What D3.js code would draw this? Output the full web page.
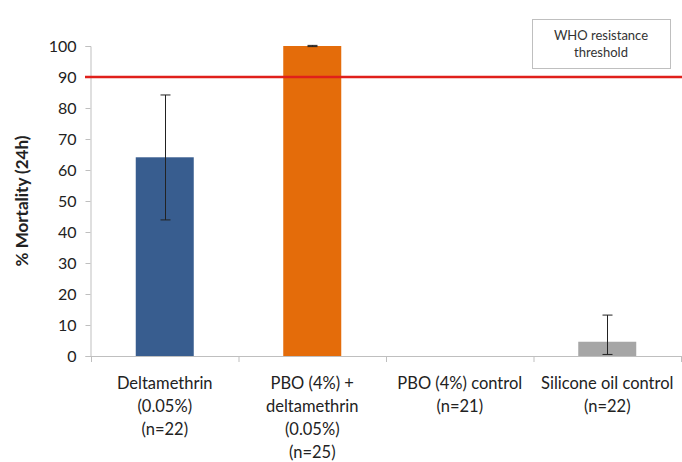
<!DOCTYPE html>
<html><head><meta charset="utf-8">
<script src="https://cdn.jsdelivr.net/npm/d3@7"></script>
<style>body{margin:0;background:#fff}svg{display:block}</style>
</head><body>
<script>
const categories = [
  ["Deltamethrin", "(0.05%)", "(n=22)"],
  ["PBO (4%) +", "deltamethrin", "(0.05%)", "(n=25)"],
  ["PBO (4%) control", "(n=21)"],
  ["Silicone oil control", "(n=22)"]
];
const values = [64.1, 100, 0, 4.6];
const errLow = [43.9, 99.8, null, 0.5];
const errHigh = [84.2, 100.2, null, 13.2];
const colors = ["#385d8f", "#e46c0a", "#ffffff", "#a6a6a6"];
const yTicks = [0,10,20,30,40,50,60,70,80,90,100];
const threshold = 90;
const thresholdLabel = ["WHO resistance", "threshold"];

const W = 682, H = 462;
const font = "Lato, 'Open Sans', sans-serif";
const svg = d3.select("body").append("svg").attr("width", W).attr("height", H);

const xb = d3.scaleBand().domain(d3.range(categories.length)).range([91, 681]);
const y = d3.scaleLinear().domain([0, 100]).range([356, 46]);

// y axis
const ya = svg.append("g").attr("transform", "translate(90.5,0)")
  .call(d3.axisLeft(y).tickValues(yTicks).tickSize(5).tickPadding(9));
ya.select(".domain").attr("stroke", "#bfbfbf");
ya.selectAll(".tick line").attr("stroke", "#bfbfbf");
ya.selectAll(".tick text").attr("font-family", font).attr("font-size", 16).attr("fill", "#222");

// x axis
svg.append("line").attr("x1", 90).attr("x2", 681).attr("y1", y(0) + 0.5).attr("y2", y(0) + 0.5).attr("stroke", "#bfbfbf");
svg.selectAll(".xt").data(d3.range(categories.length + 1)).join("line")
  .attr("x1", d => 91.5 + d * xb.bandwidth()).attr("x2", d => 91.5 + d * xb.bandwidth())
  .attr("y1", y(0)).attr("y2", y(0) + 6).attr("stroke", "#bfbfbf");

// bars
const bw = 58;
svg.selectAll(".bar").data(values).join("rect")
  .attr("x", (d, i) => xb(i) + xb.bandwidth() / 2 - bw / 2)
  .attr("width", bw)
  .attr("y", d => y(d)).attr("height", d => y(0) - y(d))
  .attr("fill", (d, i) => colors[i]);

// error bars
const eg = svg.append("g").attr("stroke", "#222").attr("stroke-width", 1);
values.forEach((v, i) => {
  if (errLow[i] == null) return;
  const cx = Math.round(xb(i) + xb.bandwidth() / 2) + 0.5;
  eg.append("line").attr("x1", cx).attr("x2", cx).attr("y1", y(errLow[i])).attr("y2", y(errHigh[i]));
  eg.append("line").attr("x1", cx - 5).attr("x2", cx + 5).attr("y1", y(errLow[i])).attr("y2", y(errLow[i]));
  eg.append("line").attr("x1", cx - 5).attr("x2", cx + 5).attr("y1", y(errHigh[i])).attr("y2", y(errHigh[i]));
});

// threshold line
svg.append("line").attr("x1", 85).attr("x2", W).attr("y1", y(threshold)).attr("y2", y(threshold))
  .attr("stroke", "#e0201b").attr("stroke-width", 2.5);

// threshold label box
svg.append("rect").attr("x", 532.5).attr("y", 19.5).attr("width", 138).attr("height", 49)
  .attr("fill", "#fff").attr("stroke", "#bfbfbf");
svg.selectAll(".tl").data(thresholdLabel).join("text")
  .attr("x", 601).attr("y", (d, i) => 40 + i * 17).attr("text-anchor", "middle")
  .attr("font-family", font).attr("font-size", 13).attr("fill", "#333").text(d => d);

// category labels
categories.forEach((lines, i) => {
  const cx = xb(i) + xb.bandwidth() / 2;
  svg.append("text").attr("text-anchor", "middle").attr("font-family", font).attr("font-size", 16.5).attr("fill", "#222")
    .selectAll("tspan").data(lines).join("tspan")
    .attr("x", cx).attr("y", (d, j) => 389 + j * 23).text(d => d);
});

// y title
svg.append("text").attr("transform", "translate(28," + y(50) + ") rotate(-90)")
  .attr("text-anchor", "middle").attr("font-family", font).attr("font-size", 17).attr("font-weight", "bold")
  .attr("fill", "#222").text("% Mortality (24h)");
</script>
</body></html>
